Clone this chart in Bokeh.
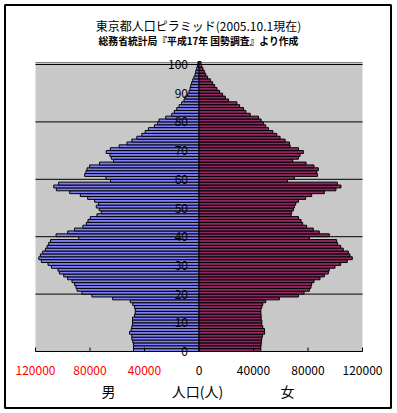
import numpy as np
from bokeh.plotting import figure
from bokeh.models import Range1d, Label, ColumnDataSource
from bokeh.core.properties import value
from bokeh.embed import file_html
from bokeh.resources import INLINE

# ---- data (thousands of persons), ages 0..100 ----
ages = list(range(0, 101))
male_k = [48.1, 48.1, 48.1, 48.6, 49.3, 49.3, 51.0, 49.8, 49.3, 48.8,
          48.8, 48.8, 47.3, 46.8, 46.8, 47.3, 48.6, 50.5, 63.4, 78.6,
          85.9, 89.5, 90.3, 91.3, 93.2, 96.4, 99.3, 102.5, 103.5, 108.3,
          110.8, 115.7, 117.6, 116.4, 114.7, 112.7, 111.5, 110.3, 109.0, 88.3,
          104.9, 96.4, 91.3, 85.2, 82.7, 81.5, 79.8, 74.9, 71.7, 73.2,
          75.4, 73.7, 76.6, 81.7, 87.1, 94.9, 104.7, 106.6, 103.0, 64.9,
          68.3, 83.9, 83.0, 82.2, 80.3, 73.0, 62.7, 64.4, 65.4, 68.1,
          65.1, 58.6, 52.9, 49.3, 45.6, 42.0, 39.5, 37.1, 32.7, 30.3,
          29.3, 24.4, 20.0, 18.1, 16.3, 14.6, 12.7, 11.0, 10.2, 8.3,
          7.3, 6.6, 6.1, 5.4, 4.6, 3.7, 2.9, 2.4, 1.7, 1.2, 0.8]
female_k = [45.4, 45.4, 45.6, 45.9, 46.1, 46.6, 48.1, 48.1, 46.8, 46.1,
            46.1, 45.6, 45.6, 45.4, 45.4, 46.1, 46.8, 49.0, 59.0, 73.0,
            77.1, 81.0, 82.2, 82.7, 84.4, 88.8, 92.0, 94.9, 95.6, 99.8,
            104.0, 108.8, 112.5, 110.8, 109.6, 105.9, 104.0, 101.7, 101.0, 81.0,
            95.6, 88.3, 83.9, 79.0, 76.1, 74.9, 73.0, 67.6, 68.0, 69.3,
            70.0, 71.0, 73.0, 78.3, 82.7, 92.0, 100.5, 104.2, 101.5, 64.9,
            70.0, 86.9, 86.4, 87.6, 84.4, 78.6, 68.8, 72.9, 74.2, 76.6,
            73.0, 66.9, 66.4, 63.2, 59.5, 57.1, 54.2, 51.0, 49.0, 47.3,
            45.6, 43.7, 37.6, 34.4, 32.7, 29.8, 27.8, 21.7, 19.3, 17.3,
            15.1, 13.2, 11.5, 10.0, 8.3, 6.3, 4.9, 3.9, 2.9, 2.0, 1.5]

x_ticks = [-120000, -80000, -40000, 0, 40000, 80000, 120000]
y_ticks = [0, 10, 20, 30, 40, 50, 60, 70, 80, 90, 100]
grid_ticks = [20, 40, 60, 80, 100]

title_text = "東京都人口ピラミッド(2005.10.1現在)"
subtitle_text = "総務省統計局『平成17年 国勢調査』より作成"
male_label = "男"
female_label = "女"
axis_label = "人口(人)"

FONT = "Noto Sans CJK JP"

# ---- layout geometry (page pixels; the canvas sits at the page origin) ----
W, H = 395, 411
PAGE0 = 0
X_LEFT_PX, X_RIGHT_PX = 35.0, 362.0     # plot-area left/right (= -120000 / +120000)
Y0_PX, Y100_PX = 351.0, 64.0            # age 0 / age 100
PLOT_TOP_PX = 62.0
FRAME_L, FRAME_R, FRAME_T, FRAME_B = 4.5, 390.5, 4.5, 407.5   # outer chart border
XMAX = 120000.0
px_per_x = (X_RIGHT_PX - X_LEFT_PX) / (2 * XMAX)
cx = (X_LEFT_PX + X_RIGHT_PX) / 2
px_per_age = (Y0_PX - Y100_PX) / 100.0

def xv(px):
    return (px - cx) / px_per_x

def yv(py):
    return (Y0_PX - py) / px_per_age

x_range = Range1d(xv(PAGE0), xv(PAGE0 + W))
y_range = Range1d(yv(PAGE0 + H), yv(PAGE0))
plot_top = yv(PLOT_TOP_PX)

male = np.array(male_k) * 1000
female = np.array(female_k) * 1000
yc = np.array(ages) + 0.5
src = ColumnDataSource(dict(y=yc, m=-male, f=female, z=np.zeros(len(ages))))

p = figure(width=W, height=H, output_backend="svg", toolbar_location=None,
           x_range=x_range, y_range=y_range,
           min_border=0, min_border_left=0, min_border_right=0,
           min_border_top=0, min_border_bottom=0,
           background_fill_color="white", border_fill_color="white",
           outline_line_color=None)
p.xaxis.visible = False
p.yaxis.visible = False
p.grid.visible = False

# outer chart border
p.quad(left=[xv(FRAME_L)], right=[xv(FRAME_R)], bottom=[yv(FRAME_B)],
       top=[yv(FRAME_T)], fill_color=None, line_color="black", line_width=2)

# plot area background
p.quad(left=[-XMAX], right=[XMAX], bottom=[0], top=[plot_top],
       fill_color="#c8c8c8", line_color=None)
p.segment(x0=[-XMAX], x1=[XMAX], y0=[plot_top], y1=[plot_top],
          line_color="#808080", line_width=1)
# horizontal grid lines
p.segment(x0=[-XMAX] * len(grid_ticks), x1=[XMAX] * len(grid_ticks),
          y0=grid_ticks, y1=grid_ticks, line_color="black", line_width=1)

# bars
p.hbar(y="y", left="m", right="z", height=1, source=src,
       fill_color="#8080f6", line_color="black", line_width=1)
p.hbar(y="y", left="z", right="f", height=1, source=src,
       fill_color="#902862", line_color="black", line_width=1)

# bottom axis line + inside ticks
p.segment(x0=[-XMAX], x1=[XMAX], y0=[0], y1=[0], line_color="black", line_width=1)
tick_len = 4 / px_per_age
p.segment(x0=x_ticks, x1=x_ticks, y0=[0] * len(x_ticks),
          y1=[tick_len] * len(x_ticks), line_color="black", line_width=1)

# y tick labels at the centre axis
p.text(x=[0] * len(y_ticks), y=y_ticks, text=[str(t) for t in y_ticks],
       x_offset=-11, text_align="right", text_baseline="middle",
       text_font=value(FONT), text_font_size="12px", text_color="black")

# x tick labels (male side in red)
p.text(x=x_ticks, y=[0] * len(x_ticks), text=[str(abs(v)) for v in x_ticks],
       y_offset=19, text_align="center", text_baseline="middle",
       text_font=value(FONT), text_font_size="12px",
       text_color=["#ff0000" if v < 0 else "black" for v in x_ticks])

# bottom captions
p.text(x=[xv(108), xv(197), xv(287)], y=[0, 0, 0],
       text=[male_label, axis_label, female_label], y_offset=39,
       text_align="center", text_baseline="middle",
       text_font=value(FONT), text_font_size="14px", text_color="black")

# titles
p.add_layout(Label(x=xv(198), y=yv(25), text=title_text, text_align="center",
                   text_baseline="middle", text_font=FONT,
                   text_font_size="12px", text_color="black"))
p.add_layout(Label(x=xv(198), y=yv(40), text=subtitle_text, text_align="center",
                   text_baseline="middle", text_font=FONT,
                   text_font_size="9.8px", text_font_style="bold",
                   text_color="black"))

open("out.html", "w").write(file_html(p, INLINE))
